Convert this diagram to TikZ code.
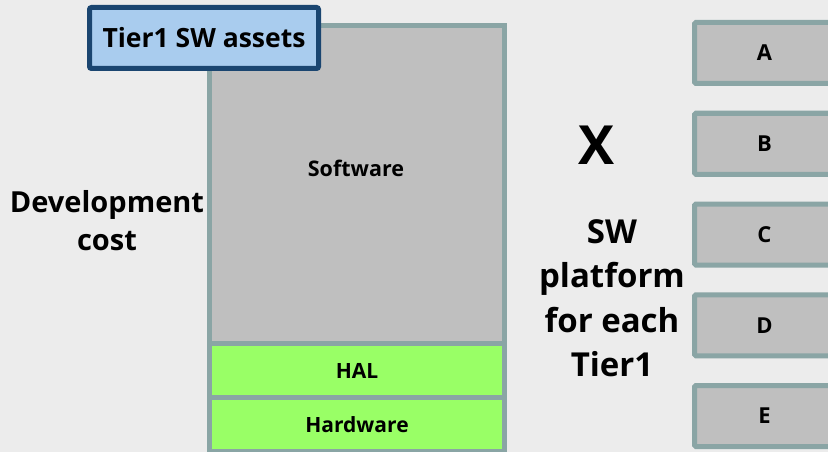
\documentclass[tikz,border=0pt]{standalone}
\usepackage{fontspec}
\setmainfont{Open Sans}
\definecolor{bgcol}{HTML}{ECECEC}
\definecolor{edgecol}{HTML}{8AA5A5}
\definecolor{swcol}{HTML}{BFBFBF}
\definecolor{halcol}{HTML}{99FF66}
\definecolor{assetcol}{HTML}{A9CCEE}
\definecolor{assetedge}{HTML}{1A4570}
\tikzset{
    layer/.style={draw=edgecol, line width=5pt, fill=#1, inner sep=0pt, outer sep=0pt,
        minimum width=295pt, font=\bfseries\fontsize{21}{24}\selectfont},
    tierbox/.style={draw=edgecol, line width=5pt, fill=swcol, inner sep=0pt,
        minimum width=140pt, minimum height=61pt, rounded corners=1.5pt,
        font=\bfseries\fontsize{22}{24}\selectfont}
}
\begin{document}
\begin{tikzpicture}[x=1pt, y=-1pt]
            \useasboundingbox [fill=bgcol] (0,0) rectangle (828,452);

            \node[layer=swcol, minimum height=318pt, anchor=north west] (software) at (209.5,25.5) {};
            \node[font=\bfseries\fontsize{21.5}{24}\selectfont] (swlabel) at (356,168) {Software};
            \node[layer=halcol, minimum height=54pt, anchor=north] (hal) at (software.south) {HAL};
            \node[layer=halcol, minimum height=54pt, anchor=north] (hardware) at (hal.south) {Hardware};

            \node[draw=assetedge, line width=5pt, fill=assetcol,
                rounded corners=2pt, minimum width=229pt, minimum height=61pt,
                font=\bfseries\fontsize{26.5}{30}\selectfont] (assets) at (204,38) {Tier1 SW assets};

            \node[align=center, font=\bfseries\fontsize{29}{38}\selectfont] (cost) at (107,221) {Development\\cost};

            \node[font=\bfseries\fontsize{54}{60}\selectfont] (times) at (597,145) {X};
            \node[align=center, font=\bfseries\fontsize{33}{44.5}\selectfont] (platform) at (612,298)
                {SW\\platform\\for each\\Tier1};

            \foreach \name [count=\i from 0] in {A,B,C,D,E}
                \node[tierbox] (tier\name) at (764.5,{53+90.75*\i}) {\name};

        \end{tikzpicture}
\end{document}
